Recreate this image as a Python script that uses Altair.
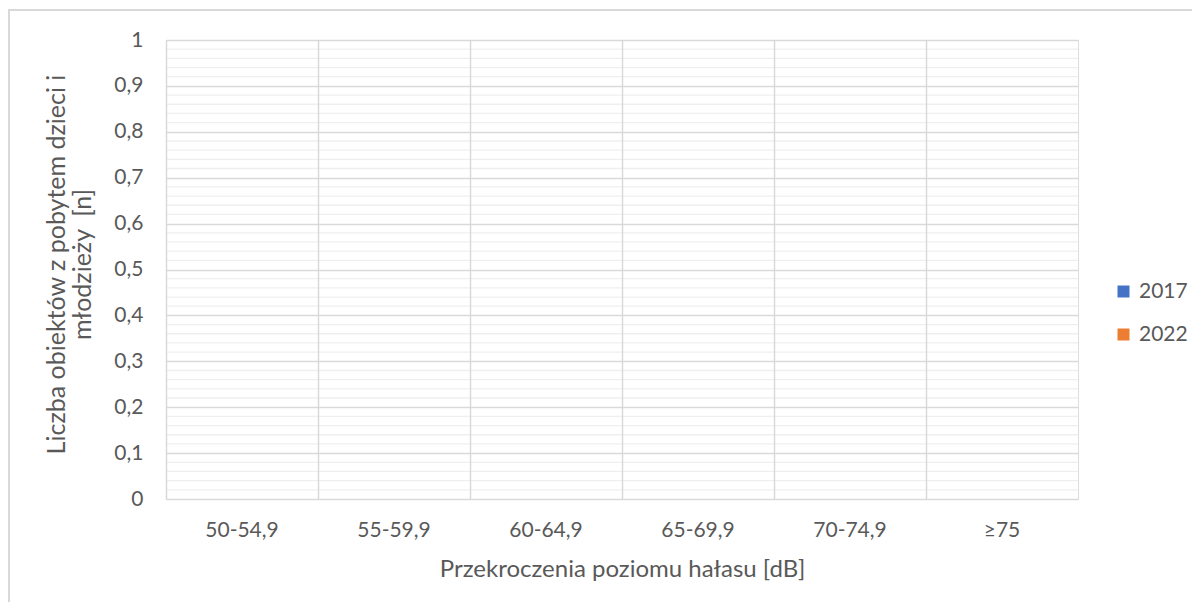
import altair as alt
import pandas as pd

categories = ["50-54,9", "55-59,9", "60-64,9", "65-69,9", "70-74,9", "≥75"]
years = ["2017", "2022"]
values_2017 = [0, 0, 0, 0, 0, 0]
values_2022 = [0, 0, 0, 0, 0, 0]
major_ticks = [0, 0.1, 0.2, 0.3, 0.4, 0.5, 0.6, 0.7, 0.8, 0.9, 1]
minor_ticks = [0.02, 0.04, 0.06, 0.08, 0.12, 0.14, 0.16, 0.18,
               0.22, 0.24, 0.26, 0.28, 0.32, 0.34, 0.36, 0.38,
               0.42, 0.44, 0.46, 0.48, 0.52, 0.54, 0.56, 0.58,
               0.62, 0.64, 0.66, 0.68, 0.72, 0.74, 0.76, 0.78,
               0.82, 0.84, 0.86, 0.88, 0.92, 0.94, 0.96, 0.98]
colors = ["#4472c4", "#ed7d31"]

rows = []
for c, a, b in zip(categories, values_2017, values_2022):
    rows.append({"kat": c, "rok": "2017", "n": a})
    rows.append({"kat": c, "rok": "2022", "n": b})
df = pd.DataFrame(rows)
df_minor = pd.DataFrame({"n": minor_ticks})

W, H = 912, 459
FONT = "Lato"
GRAY = "#595959"
GRID = "#d9d9d9"

yscale = alt.Scale(domain=[0, 1], nice=False)

bars = alt.Chart(df).mark_bar().encode(
    x=alt.X("kat:N", sort=categories,
            scale=alt.Scale(paddingInner=0, paddingOuter=0),
            axis=alt.Axis(title="Przekroczenia poziomu hałasu [dB]",
                          labelAngle=0, bandPosition=0, grid=True,
                          gridColor=GRID, gridWidth=1.5, ticks=False,
                          domain=False, labelPadding=20, titlePadding=17,
                          labelFontSize=21, titleFontSize=24,
                          labelColor=GRAY, titleColor=GRAY,
                          titleFontWeight="normal", labelFont=FONT,
                          titleFont=FONT, zindex=1)),
    xOffset=alt.XOffset("rok:N", sort=years,
                        scale=alt.Scale(paddingInner=0, paddingOuter=1)),
    y=alt.Y("n:Q", scale=yscale,
            axis=alt.Axis(title=["Liczba obiektów z pobytem dzieci i",
                                 "młodzieży\u00a0\u00a0[n]"],
                          values=major_ticks, grid=True, gridColor=GRID,
                          gridWidth=1.5, ticks=False, domain=False,
                          labelPadding=23, titlePadding=18,
                          titleLineHeight=26, titleY=224,
                          labelExpr="replace(format(datum.value, ''), '.', ',')",
                          labelFontSize=21, titleFontSize=25,
                          labelColor=GRAY, titleColor=GRAY,
                          titleFontWeight="normal", labelFont=FONT,
                          titleFont=FONT, zindex=1)),
    color=alt.Color("rok:N", sort=years,
                    scale=alt.Scale(domain=years, range=colors),
                    legend=alt.Legend(title=None, orient="none",
                                      legendX=947, legendY=241,
                                      symbolType="square", symbolSize=144,
                                      symbolStrokeWidth=0, labelFontSize=21,
                                      labelColor=GRAY, labelFont=FONT,
                                      rowPadding=21, padding=0,
                                      labelOffset=5)),
)

minor = alt.Chart(df_minor).mark_rule(color="#efefef", strokeWidth=1.3).encode(
    y=alt.Y("n:Q", scale=yscale)
)

border = alt.Chart(pd.DataFrame({"b": [1]})).mark_rect(
    fill=None, stroke=GRID, strokeWidth=2, clip=False
).encode(
    x=alt.value(-157), x2=alt.value(W + 300),
    y=alt.value(-30), y2=alt.value(H + 300)
)

chart = alt.layer(border, minor, bars).properties(
    width=W, height=H,
    padding={"left": 158, "top": 32, "right": 114, "bottom": 103},
    autosize=alt.AutoSizeParams(type="none"),
).configure_view(
    stroke=GRID, strokeWidth=1.5
).configure(background="white")

chart.save("out.html", embed_options={"renderer": "svg", "actions": False})
